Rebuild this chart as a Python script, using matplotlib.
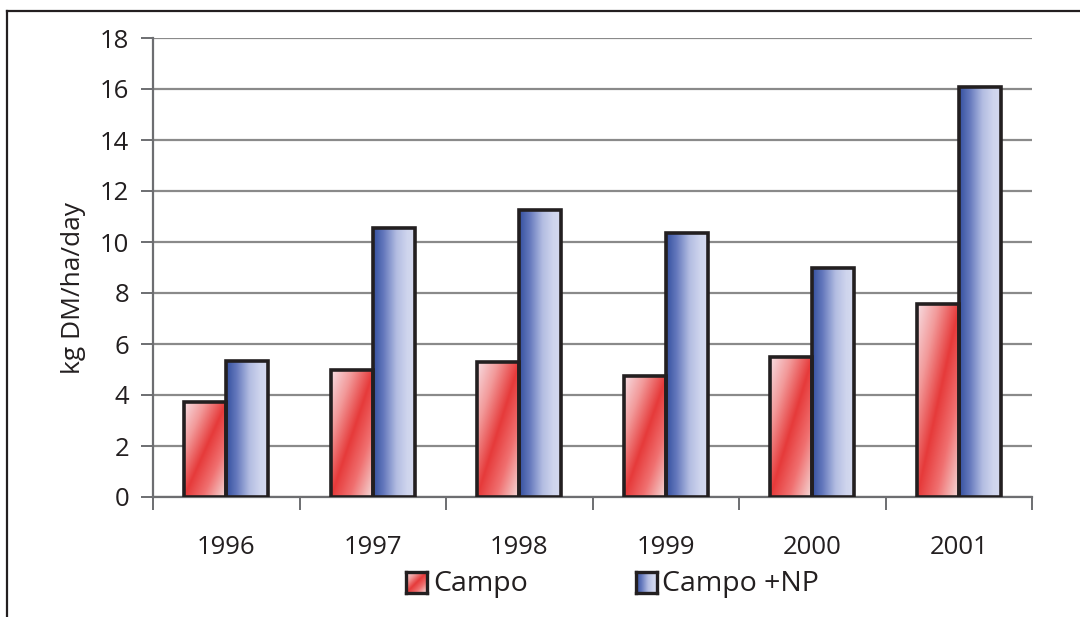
import numpy as np
import matplotlib
matplotlib.use('Agg')
import matplotlib.pyplot as plt
from matplotlib.colors import LinearSegmentedColormap
from matplotlib.lines import Line2D

plt.rcParams['font.family'] = ['Open Sans', 'DejaVu Sans']

years = ['1996', '1997', '1998', '1999', '2000', '2001']
campo = [3.73, 4.98, 5.30, 4.75, 5.50, 7.57]
campo_np = [5.33, 10.55, 11.25, 10.35, 8.98, 16.08]

red_cmap = LinearSegmentedColormap.from_list(
    'r', [(0, '#f7dfe4'), (0.25, '#f29a9a'), (0.5, '#e63a3a'), (0.72, '#f07070'), (1, '#f4e0de')])
blue_cmap = LinearSegmentedColormap.from_list(
    'b', [(0, '#34509f'), (0.25, '#6579bd'), (0.55, '#b3bde2'), (0.8, '#cfd5ed'), (1, '#d6dbf0')])

fig = plt.figure(figsize=(10.8, 6.17), dpi=100)
ax = fig.add_axes([153/1080, 1-497/617, (1032-153)/1080, (497-38)/617])

x = np.arange(len(years))
w = 0.287


def grad_bar(ax, xc, h, cmap, kind):
    bars = ax.bar(xc, h, w, facecolor='none', edgecolor='#231f20', linewidth=2.6, zorder=4)
    r = bars[0]
    n = 200
    u, v = np.meshgrid(np.linspace(0, 1, n), np.linspace(1, 0, n))
    if kind == 'diag':
        t = (u - v + 1) / 2
    else:
        t = u
    im = ax.imshow(t, cmap=cmap, vmin=0, vmax=1, aspect='auto',
                   extent=[xc - w/2, xc + w/2, 0, h], zorder=3, interpolation='bilinear')
    im.set_clip_path(r)


for i in range(len(years)):
    grad_bar(ax, x[i] - w/2, campo[i], red_cmap, 'diag')
    grad_bar(ax, x[i] + w/2, campo_np[i], blue_cmap, 'horiz')

ax.set_xlim(-0.5, len(years) - 0.5)
ax.set_ylim(0, 18)
ax.set_yticks(range(0, 19, 2))
ax.yaxis.grid(True, color='#8a8a8a', linewidth=1.6)
ax.set_axisbelow(True)

ax.set_xticks(x)
ax.set_xticklabels(years, fontsize=18.5, color='#231f20')
ax.set_xticks(np.arange(-0.5, len(years)), minor=True)
ax.tick_params(axis='x', which='major', length=0, pad=27)
ax.tick_params(axis='x', which='minor', length=9, width=1.4, color='#6d6e71')
ax.tick_params(axis='y', length=9, width=1.4, color='#6d6e71', labelsize=18.5,
               labelcolor='#231f20', pad=8)

for s in ['top', 'right']:
    ax.spines[s].set_visible(False)
for s in ['left', 'bottom']:
    ax.spines[s].set_color('#6d6e71')
    ax.spines[s].set_linewidth(1.6)

ax.set_ylabel('kg DM/ha/day', fontsize=19, color='#231f20')
ax.yaxis.set_label_coords(-0.076, 0.455)

# outer frame
fig.add_artist(Line2D([7/1080, 1], [1-11/617, 1-11/617], color='#231f20', linewidth=1.6))
fig.add_artist(Line2D([7/1080, 7/1080], [0, 1-11/617], color='#231f20', linewidth=1.6))


# legend with gradient swatches
def swatch(x0, cmap, kind, label, tx):
    sax = fig.add_axes([x0/1080, 1-593/617, 21/1080, 21/617])
    n = 50
    u, v = np.meshgrid(np.linspace(0, 1, n), np.linspace(1, 0, n))
    t = (u - v + 1) / 2 if kind == 'diag' else u
    sax.imshow(t, cmap=cmap, vmin=0, vmax=1, aspect='auto')
    sax.set_xticks([])
    sax.set_yticks([])
    for sp in sax.spines.values():
        sp.set_linewidth(2.4)
        sp.set_color('#231f20')
    fig.text(tx/1080, 1-584/617, label, fontsize=20.5, color='#231f20', va='center', ha='left')


swatch(406, red_cmap, 'diag', 'Campo', 433)
swatch(636, blue_cmap, 'horiz', 'Campo +NP', 662)

fig.savefig('out.png', dpi=100)
